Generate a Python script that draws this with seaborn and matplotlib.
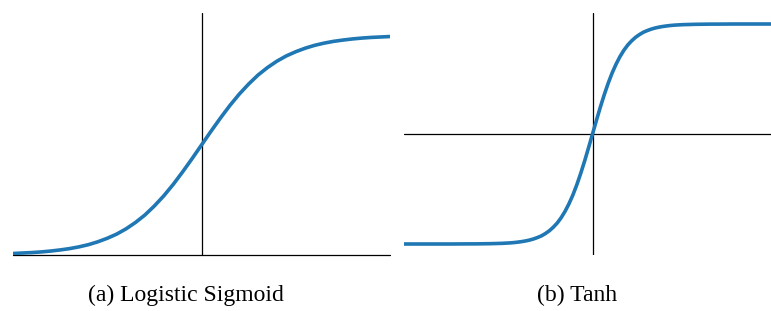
import matplotlib
matplotlib.use("Agg")
import matplotlib.pyplot as plt
import seaborn as sns

# valores
sig_x = [-5, -4.75, -4.5, -4.25, -4, -3.75, -3.5, -3.25, -3, -2.75, -2.5, -2.25, -2, -1.75,
         -1.5, -1.25, -1, -0.75, -0.5, -0.25, 0, 0.25, 0.5, 0.75, 1, 1.25, 1.5, 1.75, 2,
         2.25, 2.5, 2.75, 3, 3.25, 3.5, 3.75, 4, 4.25, 4.5, 4.75, 5]
sig_y = [0.007, 0.009, 0.011, 0.014, 0.018, 0.023, 0.029, 0.037, 0.047, 0.060, 0.076, 0.095,
         0.119, 0.148, 0.182, 0.223, 0.269, 0.321, 0.378, 0.438, 0.500, 0.562, 0.622, 0.679,
         0.731, 0.777, 0.818, 0.852, 0.881, 0.905, 0.924, 0.940, 0.953, 0.963, 0.971, 0.977,
         0.982, 0.986, 0.989, 0.991, 0.993]

tanh_x = [-6, -5, -4.5, -4, -3.75, -3.5, -3.25, -3, -2.875, -2.75, -2.625, -2.5, -2.375,
          -2.25, -2.125, -2, -1.875, -1.75, -1.625, -1.5, -1.375, -1.25, -1.125, -1, -0.875,
          -0.75, -0.625, -0.5, -0.375, -0.25, -0.125, 0, 0.125, 0.25, 0.375, 0.5, 0.625,
          0.75, 0.875, 1, 1.125, 1.25, 1.375, 1.5, 1.625, 1.75, 1.875, 2, 2.125, 2.25,
          2.375, 2.5, 2.625, 2.75, 2.875, 3, 3.25, 3.5, 3.75, 4, 4.5, 5, 6]
tanh_y = [-1.000, -1.000, -1.000, -0.999, -0.999, -0.998, -0.997, -0.995, -0.994, -0.992,
          -0.990, -0.987, -0.983, -0.978, -0.972, -0.964, -0.954, -0.941, -0.926, -0.905,
          -0.880, -0.848, -0.810, -0.762, -0.704, -0.635, -0.555, -0.462, -0.358, -0.245,
          -0.124, 0.000, 0.124, 0.245, 0.358, 0.462, 0.555, 0.635, 0.704, 0.762, 0.810,
          0.848, 0.880, 0.905, 0.926, 0.941, 0.954, 0.964, 0.972, 0.978, 0.983, 0.987,
          0.990, 0.992, 0.994, 0.995, 0.997, 0.998, 0.999, 0.999, 1.000, 1.000, 1.000]

captions = ["(a) Logistic Sigmoid", "(b) Tanh"]

sns.set_style("white")
plt.rcParams["font.family"] = ["Liberation Serif", "DejaVu Serif"]

W, H = 771, 311
fig = plt.figure(figsize=(W / 100, H / 100), dpi=100)

azul = "#1f77b4"

# Gráfico (a): sigmoide
ax1 = fig.add_axes([13 / W, (H - 255) / H, 377 / W, 242 / H])
sns.lineplot(x=sig_x, y=sig_y, ax=ax1, color=azul, linewidth=2.6)
ax1.set_xlim(-5, 5)
ax1.set_ylim(0, 1.1)
ax1.axhline(0, color="black", linewidth=0.9, zorder=1, clip_on=False)
ax1.axvline(0, color="black", linewidth=0.9, zorder=1)

# Gráfico (b): tanh
ax2 = fig.add_axes([404 / W, (H - 255) / H, 377 / W, 242 / H])
sns.lineplot(x=tanh_x, y=tanh_y, ax=ax2, color=azul, linewidth=2.6)
ax2.set_xlim(-6, 6)
ax2.set_ylim(-1.1, 1.1)
ax2.axhline(0, color="black", linewidth=0.9, zorder=1)
ax2.axvline(0, color="black", linewidth=0.9, zorder=1)

for ax in (ax1, ax2):
    ax.set_xticks([])
    ax.set_yticks([])
    sns.despine(ax=ax, left=True, bottom=True)

fig.text(185.5 / W, (H - 295) / H, captions[0], ha="center", va="center",
         fontsize=17, color="black")
fig.text(577 / W, (H - 295) / H, captions[1], ha="center", va="center",
         fontsize=17, color="black")

fig.savefig("out.png", dpi=100)
